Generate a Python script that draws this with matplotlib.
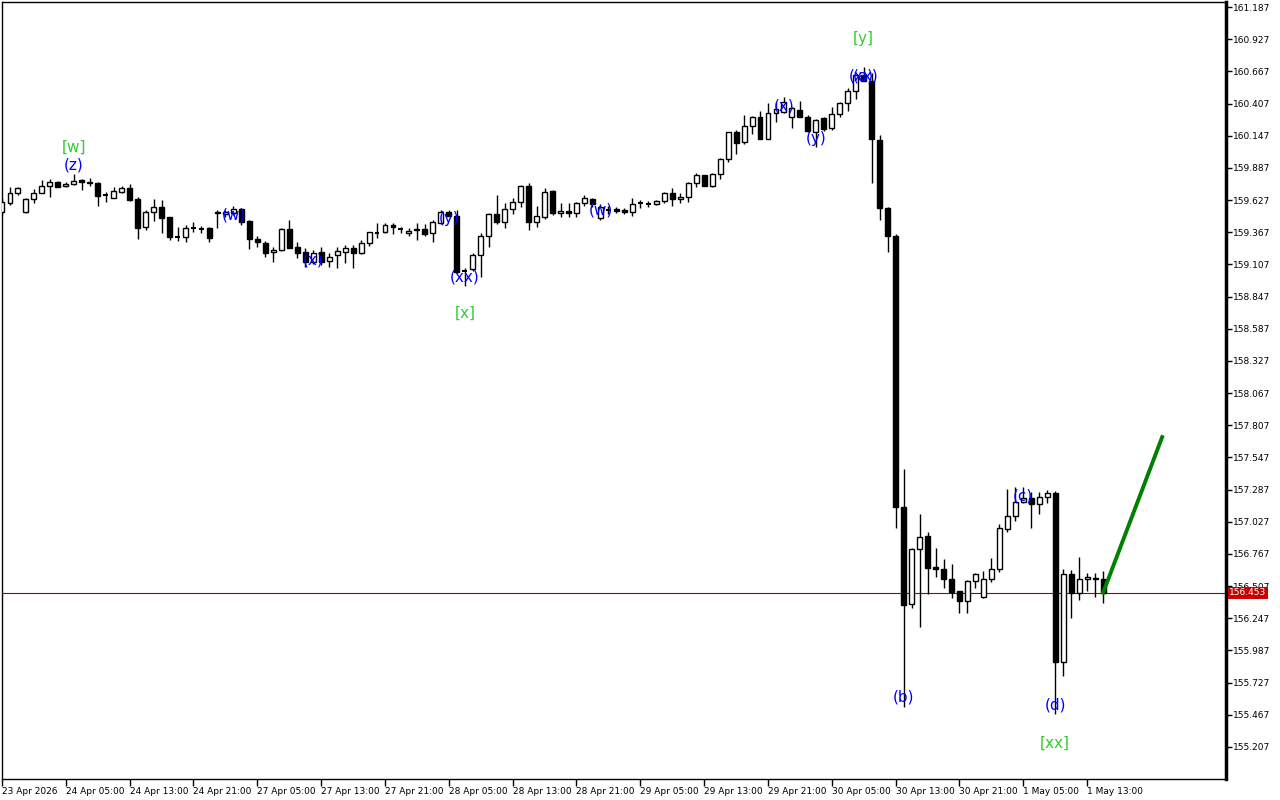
import numpy as np
import matplotlib.pyplot as plt
import matplotlib.transforms as mtransforms

# hourly candles, 23 Apr 2026 21:00 .. 1 May 2026 15:00
opens = [159.530, 159.603, 159.684, 159.530, 159.636, 159.684, 159.741, 159.773, 159.741, 159.757,
         159.789, 159.773, 159.765, 159.668, 159.644, 159.692, 159.725, 159.636, 159.409, 159.530,
         159.570, 159.490, 159.336, 159.328, 159.397, 159.401, 159.401, 159.530, 159.514, 159.522,
         159.554, 159.457, 159.312, 159.279, 159.207, 159.223, 159.393, 159.247, 159.207, 159.126,
         159.207, 159.134, 159.182, 159.207, 159.239, 159.199, 159.279, 159.368, 159.368, 159.425,
         159.393, 159.360, 159.393, 159.393, 159.360, 159.441, 159.530, 159.498, 159.061, 159.069,
         159.182, 159.336, 159.514, 159.449, 159.554, 159.611, 159.741, 159.449, 159.490, 159.700,
         159.522, 159.538, 159.522, 159.603, 159.636, 159.481, 159.554, 159.554, 159.546, 159.530,
         159.599, 159.603, 159.595, 159.619, 159.684, 159.636, 159.652, 159.765, 159.830, 159.741,
         159.838, 159.959, 160.177, 160.096, 160.226, 160.299, 160.121, 160.331, 160.339, 160.299,
         160.355, 160.299, 160.177, 160.290, 160.210, 160.323, 160.412, 160.508, 160.638, 160.589,
         160.113, 159.562, 159.336, 157.145, 156.362, 156.806, 156.911, 156.661, 156.645, 156.564,
         156.467, 156.386, 156.548, 156.418, 156.564, 156.645, 156.968, 157.073, 157.186, 157.218,
         157.170, 157.226, 157.259, 155.893, 156.604, 156.453, 156.564, 156.572, 156.564]
highs = [159.644, 159.733, 159.733, 159.644, 159.717, 159.789, 159.797, 159.781, 159.773, 159.838,
         159.797, 159.805, 159.773, 159.692, 159.733, 159.741, 159.757, 159.652, 159.546, 159.636,
         159.627, 159.490, 159.409, 159.425, 159.449, 159.417, 159.409, 159.546, 159.546, 159.578,
         159.562, 159.465, 159.336, 159.296, 159.247, 159.401, 159.465, 159.287, 159.239, 159.223,
         159.247, 159.199, 159.247, 159.263, 159.263, 159.304, 159.368, 159.441, 159.441, 159.441,
         159.409, 159.401, 159.441, 159.433, 159.465, 159.546, 159.546, 159.546, 159.077, 159.199,
         159.360, 159.522, 159.668, 159.603, 159.644, 159.749, 159.765, 159.578, 159.725, 159.708,
         159.603, 159.603, 159.611, 159.668, 159.644, 159.595, 159.578, 159.570, 159.562, 159.644,
         159.627, 159.619, 159.627, 159.692, 159.725, 159.684, 159.773, 159.846, 159.830, 159.846,
         159.967, 160.177, 160.193, 160.315, 160.307, 160.347, 160.412, 160.420, 160.460, 160.380,
         160.428, 160.315, 160.282, 160.299, 160.380, 160.420, 160.533, 160.638, 160.702, 160.654,
         160.153, 159.570, 159.352, 157.452, 156.814, 157.089, 156.943, 156.814, 156.725, 156.685,
         156.467, 156.556, 156.613, 156.629, 156.733, 157.008, 157.291, 157.307, 157.307, 157.267,
         157.267, 157.283, 157.275, 156.645, 156.637, 156.742, 156.613, 156.613, 156.629]
lows = [159.506, 159.587, 159.668, 159.522, 159.603, 159.684, 159.652, 159.733, 159.733, 159.749,
        159.708, 159.741, 159.578, 159.611, 159.644, 159.684, 159.619, 159.312, 159.384, 159.457,
        159.360, 159.304, 159.296, 159.287, 159.368, 159.360, 159.287, 159.401, 159.490, 159.506,
        159.425, 159.231, 159.247, 159.167, 159.126, 159.215, 159.239, 159.159, 159.085, 159.110,
        159.102, 159.085, 159.077, 159.118, 159.077, 159.190, 159.255, 159.320, 159.360, 159.352,
        159.360, 159.336, 159.304, 159.336, 159.287, 159.433, 159.498, 159.037, 158.932, 159.053,
        159.005, 159.247, 159.433, 159.401, 159.514, 159.570, 159.384, 159.409, 159.473, 159.506,
        159.490, 159.490, 159.490, 159.578, 159.570, 159.465, 159.514, 159.522, 159.514, 159.498,
        159.562, 159.570, 159.587, 159.603, 159.578, 159.603, 159.611, 159.733, 159.741, 159.733,
        159.797, 159.935, 159.999, 160.080, 160.161, 160.121, 160.121, 160.258, 160.331, 160.210,
        160.299, 160.177, 160.056, 160.185, 160.193, 160.299, 160.347, 160.444, 160.589, 159.765,
        159.465, 159.207, 156.976, 155.528, 156.329, 156.176, 156.443, 156.580, 156.491, 156.410,
        156.289, 156.289, 156.491, 156.410, 156.540, 156.620, 156.943, 157.032, 157.178, 156.976,
        157.089, 157.178, 155.472, 155.780, 156.248, 156.394, 156.467, 156.418, 156.370]
closes = [159.611, 159.684, 159.725, 159.636, 159.684, 159.741, 159.773, 159.733, 159.757, 159.781,
          159.773, 159.765, 159.660, 159.664, 159.700, 159.725, 159.627, 159.401, 159.530, 159.570,
          159.481, 159.328, 159.332, 159.401, 159.401, 159.397, 159.320, 159.522, 159.530, 159.554,
          159.449, 159.312, 159.287, 159.199, 159.223, 159.393, 159.239, 159.199, 159.126, 159.199,
          159.126, 159.167, 159.215, 159.239, 159.199, 159.279, 159.368, 159.364, 159.425, 159.409,
          159.389, 159.376, 159.384, 159.352, 159.449, 159.530, 159.498, 159.045, 159.057, 159.182,
          159.336, 159.514, 159.449, 159.554, 159.611, 159.741, 159.449, 159.498, 159.692, 159.522,
          159.538, 159.522, 159.603, 159.644, 159.595, 159.570, 159.550, 159.538, 159.530, 159.595,
          159.603, 159.599, 159.619, 159.684, 159.636, 159.652, 159.765, 159.830, 159.741, 159.838,
          159.959, 160.177, 160.088, 160.226, 160.299, 160.121, 160.331, 160.363, 160.420, 160.371,
          160.299, 160.185, 160.274, 160.201, 160.323, 160.412, 160.508, 160.638, 160.589, 160.121,
          159.562, 159.336, 157.145, 156.354, 156.806, 156.903, 156.653, 156.645, 156.564, 156.459,
          156.386, 156.548, 156.604, 156.564, 156.645, 156.976, 157.073, 157.186, 157.218, 157.170,
          157.226, 157.259, 155.893, 156.604, 156.453, 156.564, 156.580, 156.564, 156.453]

time_labels = ['23 Apr 2026', '24 Apr 05:00', '24 Apr 13:00', '24 Apr 21:00', '27 Apr 05:00',
               '27 Apr 13:00', '27 Apr 21:00', '28 Apr 05:00', '28 Apr 13:00', '28 Apr 21:00',
               '29 Apr 05:00', '29 Apr 13:00', '29 Apr 21:00', '30 Apr 05:00', '30 Apr 13:00',
               '30 Apr 21:00', '1 May 05:00', '1 May 13:00']

# wave marks: bar index, price, text
blue_marks = [(9, 159.911, '(z)'), (29, 159.506, '(w)'), (39, 159.142, '(x)'),
              (56, 159.481, '(y)'), (58, 159.005, '(xx)'), (75, 159.546, '(w)'),
              (98, 160.388, '(x)'), (102, 160.128, '(y)'), (108, 160.630, '(xx)'),
              (108, 160.630, '(a)'), (113, 155.609, '(b)'), (128, 157.234, '(c)'),
              (132, 155.545, '(d)')]
green_marks = [(9, 160.056, '[w]'), (58, 158.714, '[x]'), (108, 160.929, '[y]'),
               (132, 155.237, '[xx]')]

target_x = [138, 145.4]
target_y = [156.453, 157.711]
last_price = 156.453

fig = plt.figure(figsize=(12.8, 8), dpi=100)
ax = fig.add_axes([2/1280, 21/800, 1224/1280, 777/800])

o = np.array(opens); h = np.array(highs); l = np.array(lows); c = np.array(closes)
idx = np.arange(len(o))

ax.vlines(idx, l, h, color='black', lw=1, zorder=2)
up = c >= o
bw = 0.62
bottoms = np.minimum(o, c)
heights = np.abs(c - o)
flat = heights < 0.006
ax.bar(idx[up & ~flat], heights[up & ~flat], bw, bottoms[up & ~flat],
       facecolor='white', edgecolor='black', lw=1, zorder=3)
ax.bar(idx[~up & ~flat], heights[~up & ~flat], bw, bottoms[~up & ~flat],
       facecolor='black', edgecolor='black', lw=1, zorder=3)
ax.hlines(c[flat], idx[flat] - bw/2, idx[flat] + bw/2, color='black', lw=1.5, zorder=3)

ax.axhline(last_price, color='#a00000', lw=0.8, zorder=1)
ax.plot(target_x, target_y, color='#008000', lw=2.8, zorder=4)

for i, p, t in blue_marks:
    ax.text(i, p, t, color='blue', fontsize=11, ha='center', va='center', zorder=5)
for i, p, t in green_marks:
    ax.text(i, p, t, color='#32cd32', fontsize=11, ha='center', va='center', zorder=5)

ax.set_xlim(0, 153.4)
ax.set_ylim(154.947, 161.228)

yt = np.round(np.arange(155.207, 161.2, 0.26), 3)
ax.yaxis.tick_right()
ax.set_yticks(yt)
ax.set_yticklabels(['%.3f' % v for v in yt])
ax.tick_params(axis='y', direction='out', length=4, width=1, labelsize=6.5, pad=1)
ax.set_xticks(np.arange(0, 8 * len(time_labels), 8))
ax.set_xticklabels(time_labels)
ax.tick_params(axis='x', direction='out', length=5, width=1, labelsize=6.5, pad=1)
for lab in ax.get_xticklabels():
    lab.set_ha('left')
for lab in ax.get_yticklabels():
    lab.set_ha('left')

for s in ax.spines.values():
    s.set_linewidth(1)
ax.spines['right'].set_linewidth(2.5)

trans = mtransforms.blended_transform_factory(ax.transAxes, ax.transData)
ax.text(1.0025, last_price, '%.3f' % last_price, transform=trans, color='white', fontsize=6.5,
        ha='left', va='center', zorder=6,
        bbox=dict(boxstyle='square,pad=0.15', facecolor='#c80000', edgecolor='none'))

fig.savefig('out.png', dpi=100)
